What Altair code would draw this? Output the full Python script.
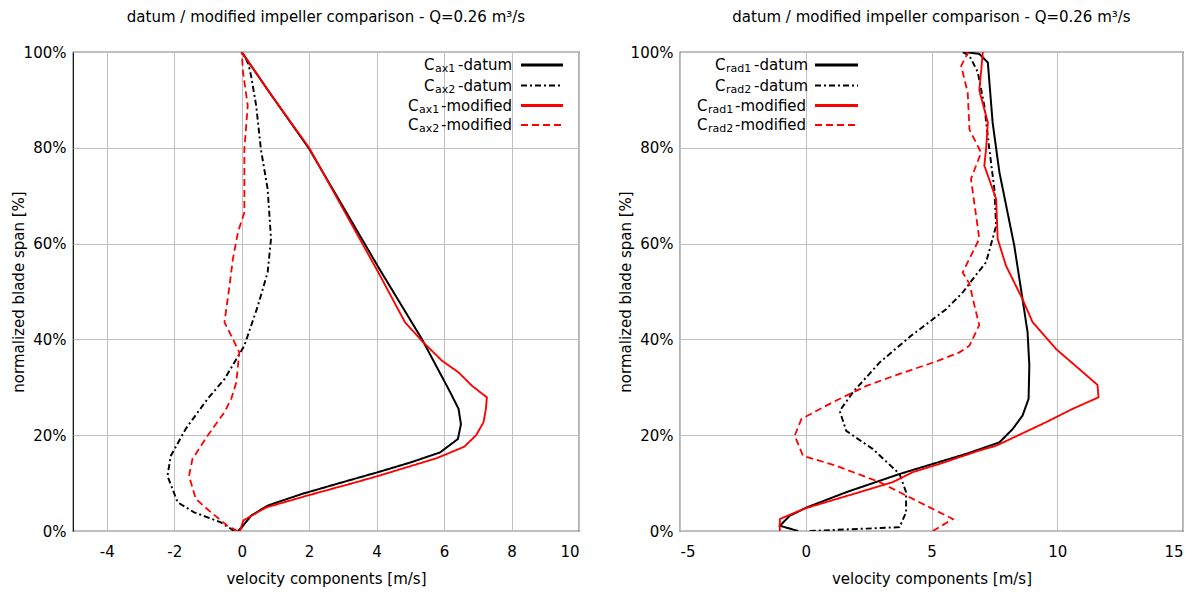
import altair as alt
import pandas as pd

FONT = "DejaVu Sans"

# ---------------- left panel: axial velocity components ----------------
cax1_datum_x = [-0.1, 0.04, 0.28, 0.77, 1.77, 3.0, 4.05, 5.0, 5.88, 6.41, 6.5, 6.43, 6.18, 5.34, 4.05, 2.0, 0.9, 0.0]
cax1_datum_y = [0, 1.1, 3.2, 5.3, 7.7, 10.2, 12.3, 14.3, 16.4, 19.2, 22.3, 25.5, 29.0, 40.1, 55.1, 79.8, 90.8, 100]

cax2_datum_x = [-0.22, -0.62, -1.41, -1.9, -2.2, -2.1, -1.66, -1.01, -0.51, 0.08, 0.48, 0.77, 0.87, 0.77, 0.57, 0.43, 0.28, 0.2, 0.02]
cax2_datum_y = [0, 1.8, 3.9, 6.0, 11.5, 15.7, 21.3, 27.6, 31.7, 38.7, 47.0, 54.0, 61.0, 71.4, 79.7, 88.8, 95.0, 97.5, 100]

cax1_mod_x = [-0.05, 0.05, 0.72, 2.0, 3.35, 4.05, 5.78, 6.6, 6.95, 7.17, 7.24, 7.27, 6.83, 6.43, 5.93, 5.34, 4.84, 4.05, 2.0, 0.82, 0.0]
cax1_mod_y = [0, 2.2, 4.9, 7.5, 10.1, 11.5, 15.2, 17.6, 20.0, 22.7, 25.5, 27.9, 30.3, 33.1, 35.6, 39.7, 43.6, 54.0, 80.0, 91.6, 100]

cax2_mod_x = [-0.12, -0.42, -0.91, -1.36, -1.56, -1.46, -1.01, -0.51, -0.31, -0.16, -0.07, -0.31, -0.51, -0.36, -0.26, -0.11, 0.08, 0.08, 0.18, 0.04, 0.0]
cax2_mod_y = [0, 1.1, 3.9, 6.7, 11.5, 15.0, 19.9, 24.8, 27.6, 31.0, 37.3, 40.8, 43.6, 51.2, 56.8, 62.4, 66.5, 79.7, 88.8, 95.8, 100]

# ---------------- right panel: radial velocity components ----------------
crad1_datum_x = [-0.3, -1.03, -0.63, 0.03, 1.61, 3.73, 5.05, 6.38, 7.7, 8.23, 8.62, 8.86, 8.89, 8.82, 8.62, 8.29, 7.7, 7.43, 7.24, 6.9, 6.31]
crad1_datum_y = [0, 1.1, 3.2, 4.9, 8.1, 11.9, 14.0, 16.1, 18.5, 21.3, 24.1, 27.6, 34.5, 41.5, 48.4, 59.6, 74.9, 85.3, 97.8, 99.6, 100]

crad2_datum_x = [0.16, 3.73, 3.99, 3.99, 3.73, 2.67, 1.61, 1.35, 1.88, 2.94, 4.2, 5.58, 6.24, 6.7, 7.17, 7.57, 7.5, 7.3, 7.1, 6.84, 6.51, 6.24]
crad2_datum_y = [0, 0.8, 3.9, 8.1, 11.9, 17.1, 20.9, 25.1, 29.0, 35.2, 40.8, 46.3, 49.8, 53.0, 56.1, 63.7, 71.4, 79.7, 88.8, 95.8, 99.2, 100]

crad1_mod_x = [-1.03, -1.03, -0.04, 1.88, 3.46, 4.26, 5.32, 6.9, 7.57, 9.55, 10.61, 11.64, 11.6, 10.48, 9.95, 9.02, 8.62, 7.96, 7.63, 7.57, 7.1, 7.17, 7.24, 6.9, 6.97, 7.04]
crad1_mod_y = [0, 2.5, 4.7, 7.7, 10.2, 12.3, 14.0, 16.8, 17.8, 22.7, 25.5, 27.9, 30.5, 35.6, 38.0, 43.6, 48.4, 55.4, 61.0, 69.3, 76.3, 79.7, 85.3, 92.0, 95.8, 100]

crad2_mod_x = [5.05, 5.85, 4.52, 2.94, 1.22, -0.11, -0.44, -0.17, 1.08, 2.41, 3.73, 5.19, 6.11, 6.51, 6.9, 6.71, 6.51, 6.24, 6.9, 6.57, 6.97, 6.51, 6.44, 6.18, 6.38, 6.44]
crad2_mod_y = [0, 2.5, 6.0, 10.2, 13.6, 15.7, 19.9, 23.4, 26.9, 30.3, 32.8, 35.4, 37.3, 38.7, 43.0, 47.0, 51.6, 54.0, 61.0, 73.5, 79.0, 83.8, 91.5, 97.1, 99.2, 100]

series_names = ["datum1", "datum2", "mod1", "mod2"]
series_colors = ["#000000", "#000000", "#ff0000", "#ff0000"]
series_dash = [[1, 0], [6, 3, 2, 3], [1, 0], [7, 4]]
series_width = [2, 1.8, 2, 1.8]

left_title_sub = ["ax1", "ax2", "ax1", "ax2"]
right_title_sub = ["rad1", "rad2", "rad1", "rad2"]
suffixes = ["-datum", "-datum", "-modified", "-modified"]

left_ticks = [-4, -2, 0, 2, 4, 6, 8, 10]
right_ticks = [-5, 0, 5, 10, 15]
y_ticks = [0, 20, 40, 60, 80, 100]

TITLE = "datum / modified impeller comparison - Q=0.26 m³/s"


def frame(pairs):
    rows = []
    for name, (xs, ys) in zip(series_names, pairs):
        for i, (x, y) in enumerate(zip(xs, ys)):
            rows.append({"series": name, "x": x, "y": y, "i": i})
    return pd.DataFrame(rows)


def legend_layers(subs, c_pos, sub_pos, suf_pos, samp):
    layers = []
    row_y = [13, 33.5, 53.5, 73]
    dummy = pd.DataFrame({"k": [0]})
    for r in range(4):
        base = alt.Chart(dummy)
        layers.append(base.mark_text(align="left", baseline="middle", fontSize=15, font=FONT, color="black")
                      .encode(x=alt.value(c_pos[r]), y=alt.value(row_y[r]), text=alt.value("C")))
        layers.append(base.mark_text(align="left", baseline="middle", fontSize=11, font=FONT, color="black")
                      .encode(x=alt.value(sub_pos[r]), y=alt.value(row_y[r] + 4), text=alt.value(subs[r])))
        layers.append(base.mark_text(align="left", baseline="middle", fontSize=15, font=FONT, color="black")
                      .encode(x=alt.value(suf_pos[r]), y=alt.value(row_y[r]), text=alt.value(suffixes[r])))
        layers.append(base.mark_rule(color=series_colors[r], strokeDash=series_dash[r],
                                     strokeWidth=3 if r % 2 == 0 else 2)
                      .encode(x=alt.value(samp[0]), x2=alt.value(samp[1]), y=alt.value(row_y[r])))
    return layers


def panel(df, xdom, xticks, subs, c_pos, sub_pos, suf_pos, samp, width):
    lines = alt.Chart(df).mark_line(clip=True).encode(
        x=alt.X("x:Q", scale=alt.Scale(domain=xdom, nice=False, zero=False),
                axis=alt.Axis(values=xticks, labelExpr="datum.value + ''",
                              title="velocity components [m/s]")),
        y=alt.Y("y:Q", scale=alt.Scale(domain=[0, 100], nice=False),
                axis=alt.Axis(values=y_ticks, labelExpr="datum.value + '%'",
                              title="normalized blade span [%]")),
        color=alt.Color("series:N", scale=alt.Scale(domain=series_names, range=series_colors), legend=None),
        strokeDash=alt.StrokeDash("series:N", scale=alt.Scale(domain=series_names, range=series_dash), legend=None),
        strokeWidth=alt.StrokeWidth("series:N", scale=alt.Scale(domain=series_names, range=series_width), legend=None),
        order="i:Q",
    )
    return alt.layer(lines, *legend_layers(subs, c_pos, sub_pos, suf_pos, samp)).properties(
        width=width, height=479,
        title=alt.TitleParams(TITLE, fontSize=15, fontWeight="normal", font=FONT, offset=20),
    )


left_df = frame([(cax1_datum_x, cax1_datum_y), (cax2_datum_x, cax2_datum_y),
                 (cax1_mod_x, cax1_mod_y), (cax2_mod_x, cax2_mod_y)])
right_df = frame([(crad1_datum_x, crad1_datum_y), (crad2_datum_x, crad2_datum_y),
                  (crad1_mod_x, crad1_mod_y), (crad2_mod_x, crad2_mod_y)])

left = panel(left_df, [-5, 10], left_ticks, left_title_sub,
             [351, 351, 335, 335], [362, 362, 346, 346], [385, 385, 368, 368], [448, 490], 506)
right = panel(right_df, [-5, 15], right_ticks, right_title_sub,
              [35, 35, 17, 17], [46, 46, 28, 28], [74, 74, 55, 55], [135, 178], 503)

chart = alt.hconcat(left, right, spacing=37).properties(
    padding={"left": 10, "top": 9, "right": 5, "bottom": 5}
).configure_view(stroke="black", strokeWidth=1.2).configure_axis(
    labelFont=FONT, titleFont=FONT, labelFontSize=15, titleFontSize=15, labelColor="black",
    titleColor="black", titleFontWeight="normal", gridColor="#c0c0c0", gridWidth=1,
    domain=False, ticks=False,
).configure_axisY(titlePadding=-3, labelPadding=7).configure_axisX(titlePadding=12, labelPadding=13)

chart.save("out.html", embed_options={"renderer": "svg", "actions": False})
